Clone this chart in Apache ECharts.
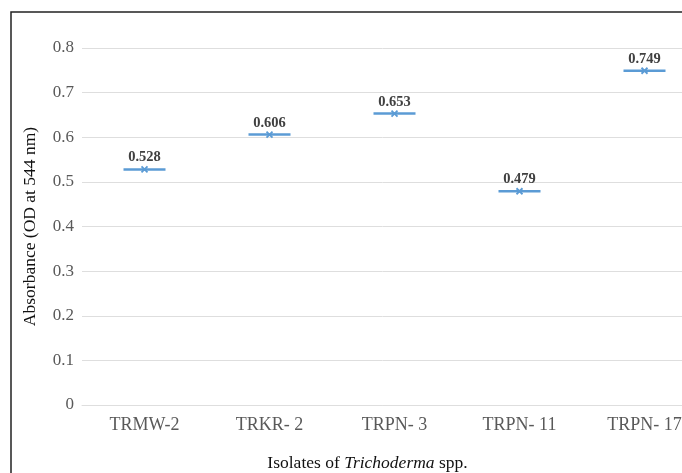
<!DOCTYPE html>
<html>
<head>
<meta charset="utf-8">
<script src="https://cdn.jsdelivr.net/npm/echarts@6/dist/echarts.min.js"></script>
<style>
  html, body { margin: 0; padding: 0; background: #fff; }
  #chart { width: 682px; height: 473px; }
</style>
</head>
<body>
<div id="chart"></div>
<script>
var isolates = ['TRMW-2', 'TRKR- 2', 'TRPN- 3', 'TRPN- 11', 'TRPN- 17']
var absorbance = [0.528, 0.606, 0.653, 0.479, 0.749]
var yTicks = [0, 0.1, 0.2, 0.3, 0.4, 0.5, 0.6, 0.7, 0.8]

var SERIF = '"Liberation Serif", "DejaVu Serif", serif'
var MARK_COLOR = '#5b9bd5'
var GRID_COLOR = '#dedede'

var chart = echarts.init(document.getElementById('chart'))

chart.setOption({
  backgroundColor: '#fff',
  animation: false,
  textStyle: { fontFamily: SERIF },
  graphic: [
    {
      type: 'rect',
      shape: { x: 11, y: 12, width: 700, height: 480 },
      style: { fill: 'none', stroke: '#222', lineWidth: 1.5 },
      silent: true
    }
  ],
  grid: { left: 82, top: 48, width: 625, height: 357, outerBoundsMode: 'none', containLabel: false },
  xAxis: {
    type: 'category',
    data: isolates,
    axisTick: { show: false },
    axisLine: { lineStyle: { color: GRID_COLOR, width: 1 } },
    axisLabel: { color: '#595959', fontSize: 18, fontFamily: SERIF, margin: 11 },
    name: '{a|Isolates of }{i|Trichoderma}{a| spp.}',
    nameLocation: 'middle',
    nameGap: 49,
    nameTextStyle: {
      padding: [0, 54, 0, 0],
      rich: {
        a: { fontSize: 17.5, color: '#111', fontFamily: SERIF },
        i: { fontSize: 17.5, color: '#111', fontFamily: SERIF, fontStyle: 'italic' }
      }
    }
  },
  yAxis: {
    type: 'value',
    min: yTicks[0],
    max: yTicks[yTicks.length - 1],
    interval: 0.1,
    axisLine: { show: false },
    axisTick: { show: false },
    splitLine: { lineStyle: { color: GRID_COLOR, width: 1 } },
    axisLabel: {
      color: '#595959',
      fontSize: 17,
      fontFamily: SERIF,
      margin: 8,
      formatter: function (v) { return v === 0 ? '0' : v.toFixed(1) }
    },
    name: 'Absorbance (OD at 544 nm)',
    nameLocation: 'middle',
    nameGap: 43,
    nameTextStyle: { fontSize: 17.5, color: '#111', fontFamily: SERIF }
  },
  series: [
    {
      type: 'scatter',
      data: absorbance,
      symbol: 'rect',
      symbolSize: [42, 2.5],
      itemStyle: { color: MARK_COLOR, opacity: 1 },
      label: {
        show: true,
        position: 'top',
        distance: 3,
        color: '#404040',
        fontSize: 14.5,
        fontWeight: 'bold',
        fontFamily: SERIF,
        formatter: function (p) { return p.value.toFixed(3) }
      },
      z: 2
    },
    {
      type: 'scatter',
      data: absorbance,
      symbol: 'path://M0,0 L10,10 M10,0 L0,10',
      symbolSize: 6,
      itemStyle: { color: 'none', borderColor: MARK_COLOR, borderWidth: 1.8, opacity: 1 },
      z: 3
    }
  ]
})
</script>
</body>
</html>
